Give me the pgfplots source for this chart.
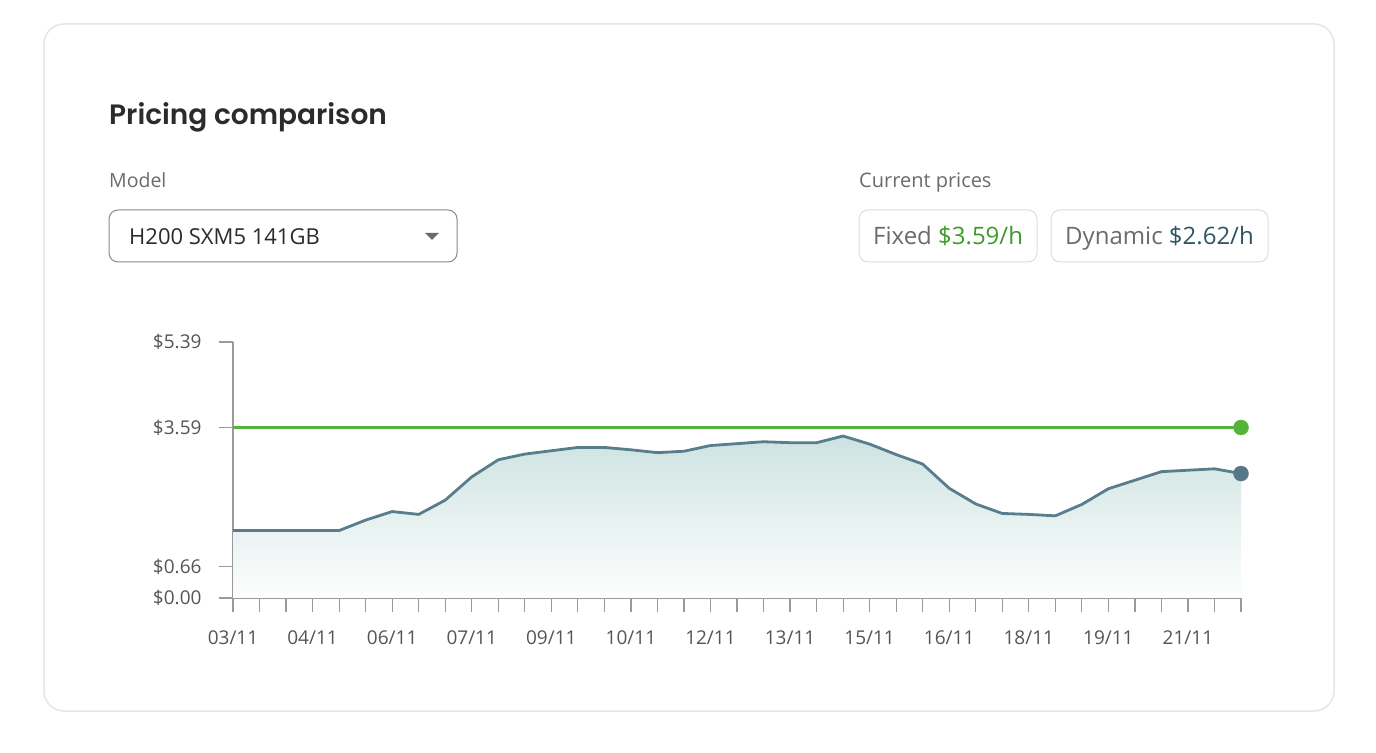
\documentclass[border=0pt]{standalone}
\usepackage{fontspec}
\setmainfont{Open Sans}
\newfontfamily\poppins{Poppins SemiBold}
\usepackage{pgfplots}
\usepackage{pgfplotstable}
\pgfplotsset{compat=1.18}
\definecolor{cardb}{HTML}{E6E6E6}
\definecolor{titlec}{HTML}{2B2B2B}
\definecolor{labelc}{HTML}{6B6B6B}
\definecolor{boxb}{HTML}{8A8A8A}
\definecolor{pillb}{HTML}{DDDDDD}
\definecolor{greenl}{HTML}{56B33A}
\definecolor{greent}{HTML}{3E9A2C}
\definecolor{dynt}{HTML}{2F5563}
\definecolor{linec}{HTML}{587D8C}
\definecolor{dotc}{HTML}{557788}
\definecolor{fillc}{HTML}{CDE3E1}
\definecolor{axisc}{HTML}{9A9A9A}
\definecolor{tickc}{HTML}{555555}
\pgfplotstableread{
x y
0 1.42
1 1.42
2 1.42
3 1.42
4 1.42
5 1.64
6 1.82
7 1.76
8 2.06
9 2.55
10 2.91
11 3.03
12 3.10
13 3.17
14 3.17
15 3.12
16 3.06
17 3.09
18 3.21
19 3.25
20 3.29
21 3.27
22 3.27
23 3.41
24 3.24
25 3.02
26 2.82
27 2.31
28 1.98
29 1.78
30 1.76
31 1.73
32 1.97
33 2.30
34 2.48
35 2.66
36 2.69
37 2.72
38 2.62
}\dyn
\begin{document}
\begin{tikzpicture}[x=1bp,y=1bp]
\fill[white] (0,0) rectangle (1376,752);
\draw[cardb, line width=1.5bp, rounded corners=20bp] (44,728) rectangle (1334,41);
\node[anchor=base west, inner sep=0, text=titlec] at (109,627) {\poppins\fontsize{28bp}{32bp}\selectfont Pricing comparison};
\node[anchor=base west, inner sep=0, text=labelc] at (109,564) {\fontsize{19.5bp}{22bp}\selectfont Model};
\draw[boxb, line width=1bp, rounded corners=9bp] (109,542) rectangle (457,490);
\node[anchor=base west, inner sep=0, text=titlec] at (129,507) {\fontsize{22bp}{24bp}\selectfont H200 SXM5 141GB};
\fill[labelc] (425,519) -- (439,519) -- (432,512) -- cycle;
\node[anchor=base west, inner sep=0, text=labelc] at (859,564) {\fontsize{20bp}{22bp}\selectfont Current prices};
\draw[pillb, line width=1bp, rounded corners=9bp] (859,542) rectangle (1037,490);
\node[anchor=base west, inner sep=0, text=labelc] at (873,507) {\fontsize{24bp}{26bp}\selectfont Fixed \textcolor{greent}{\$3.59/h}};
\draw[pillb, line width=1bp, rounded corners=9bp] (1051,542) rectangle (1268,490);
\node[anchor=base west, inner sep=0, text=labelc] at (1065,507) {\fontsize{24bp}{26bp}\selectfont Dynamic \textcolor{dynt}{\$2.62/h}};
\begin{axis}[
  at={(233bp,154bp)}, anchor=south west,
  scale only axis, width=1008bp, height=256bp,
  xmin=0, xmax=38, ymin=0, ymax=5.39,
  axis lines*=left,
  axis line style={axisc, line width=1.2bp},
  tick style={axisc, line width=1.2bp},
  major tick length=14bp,
  tick align=outside,
  clip=false,
  xtick={0,...,38},
  xticklabels={03/11,,,04/11,,,06/11,,,07/11,,,09/11,,,10/11,,,12/11,,,13/11,,,15/11,,,16/11,,,18/11,,,19/11,,,21/11,,},
  ytick={0,0.66,3.59,5.39},
  yticklabels={\$0.00,\$0.66,\$3.59,\$5.39},
  tick label style={font=\fontsize{19bp}{22bp}\selectfont, text=tickc},
  xticklabel style={yshift=-15bp},
  yticklabel style={xshift=-14bp},
]
\addplot[draw=none, top color=fillc, bottom color=white!97!fillc, forget plot] table[x=x,y=y] {\dyn} \closedcycle;
\addplot[linec, line width=2.8bp, line join=round] table[x=x,y=y] {\dyn};
\addplot[greenl, line width=2.6bp] coordinates {(0,3.59) (38,3.59)};
\addplot[only marks, mark=*, mark size=7.5bp, greenl, mark options={draw=greenl, fill=greenl}] coordinates {(38,3.59)};
\addplot[only marks, mark=*, mark size=7.5bp, dotc, mark options={draw=dotc, fill=dotc}] coordinates {(38,2.62)};
\end{axis}
\end{tikzpicture}
\end{document}
